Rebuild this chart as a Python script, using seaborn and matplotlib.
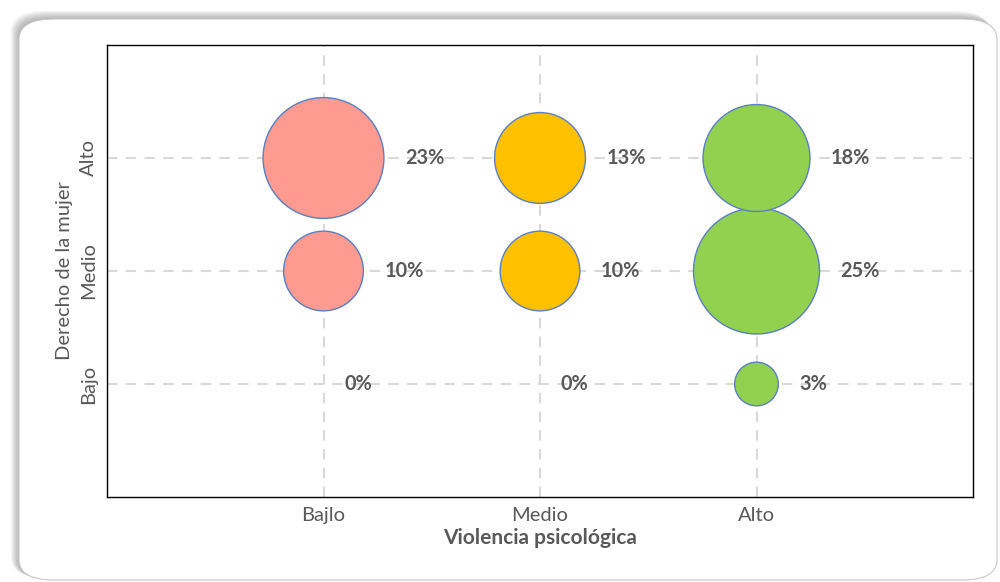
import matplotlib
matplotlib.use("Agg")
import matplotlib.pyplot as plt
import seaborn as sns
import pandas as pd
from matplotlib.patches import FancyBboxPatch

# ---- data ----
x_categories = ["Bajlo", "Medio", "Alto"]
y_categories = ["Bajo", "Medio", "Alto"]
bajlo_values = [0, 10, 23]   # Bajo, Medio, Alto (Derecho de la mujer)
medio_values = [0, 10, 13]
alto_values = [3, 25, 18]
colors = ["#FF9A90", "#FFC000", "#92D050"]

rows = []
for xi, vals in enumerate([bajlo_values, medio_values, alto_values]):
    for yi, v in enumerate(vals):
        rows.append({"x": xi, "y": yi, "value": v, "grp": x_categories[xi]})
df = pd.DataFrame(rows)

sns.set_theme(style="white")
plt.rcParams["font.family"] = ["Lato", "DejaVu Sans"]

fig = plt.figure(figsize=(10, 5.82), dpi=100)

W, H = 1000.0, 582.0
x0, y0, x1, y1 = 19, 19, 997, 580   # frame in pixels (top-left origin)
rs = 0.035
# shadow toward upper-left
for k in range(1, 9):
    sh = FancyBboxPatch(((x0 - k) / W, 1 - (y1 - k * 0.3) / H),
                        (x1 - x0) / W, (y1 - y0) / H + k * 0.7 / H,
                        boxstyle=f"round,pad=0,rounding_size={rs}",
                        transform=fig.transFigure, facecolor="#505050",
                        edgecolor="none", alpha=0.06, zorder=-3)
    fig.add_artist(sh)
frame = FancyBboxPatch((x0 / W, 1 - y1 / H), (x1 - x0) / W, (y1 - y0) / H,
                       boxstyle=f"round,pad=0,rounding_size={rs}",
                       transform=fig.transFigure, facecolor="white",
                       edgecolor="#C8C8C8", linewidth=0.8, zorder=-2)
fig.add_artist(frame)

ax = fig.add_axes([0.107, 0.146, 0.866, 0.7767])
ax.set_facecolor("none")
ax.set_zorder(1)

sns.scatterplot(data=df, x="x", y="y", hue="grp", palette=colors,
                size="value", sizes=(0, 8230), size_norm=(0, 25),
                edgecolor="#5B7FC4", linewidth=1.0, alpha=1.0,
                legend=False, ax=ax, zorder=3)

ax.set_xlim(-1, 3)
ax.set_ylim(-1, 3)
ax.set_xticks([0, 1, 2])
ax.set_xticklabels(x_categories)
ax.set_yticks([0, 1, 2])
ax.set_yticklabels(y_categories, rotation=90, va="center")
ax.tick_params(axis="both", labelsize=14.5, labelcolor="#595959", length=0, pad=7)

ax.grid(True, color="#D9D9D9", linestyle=(0, (5, 4)), linewidth=1.5, zorder=0)
ax.set_axisbelow(True)
for s in ax.spines.values():
    s.set_color("black")
    s.set_linewidth(1.0)

ax.set_xlabel("Violencia psicológica", fontsize=15, fontweight="bold", color="#595959", labelpad=3)
ax.set_ylabel("Derecho de la mujer", fontsize=14.5, color="#595959", labelpad=5)

# labels to the right of bubbles
for _, r in df.iterrows():
    diam_pt = (8230 * r["value"] / 25) ** 0.5
    off_pt = diam_pt / 2 + 15
    ax.annotate(f"{int(r['value'])}%", (r["x"], r["y"]), xytext=(off_pt, 0),
                textcoords="offset points", ha="left", va="center",
                fontsize=14.3, fontweight="bold", color="#595959", zorder=4)

fig.savefig("out.png", dpi=100)
